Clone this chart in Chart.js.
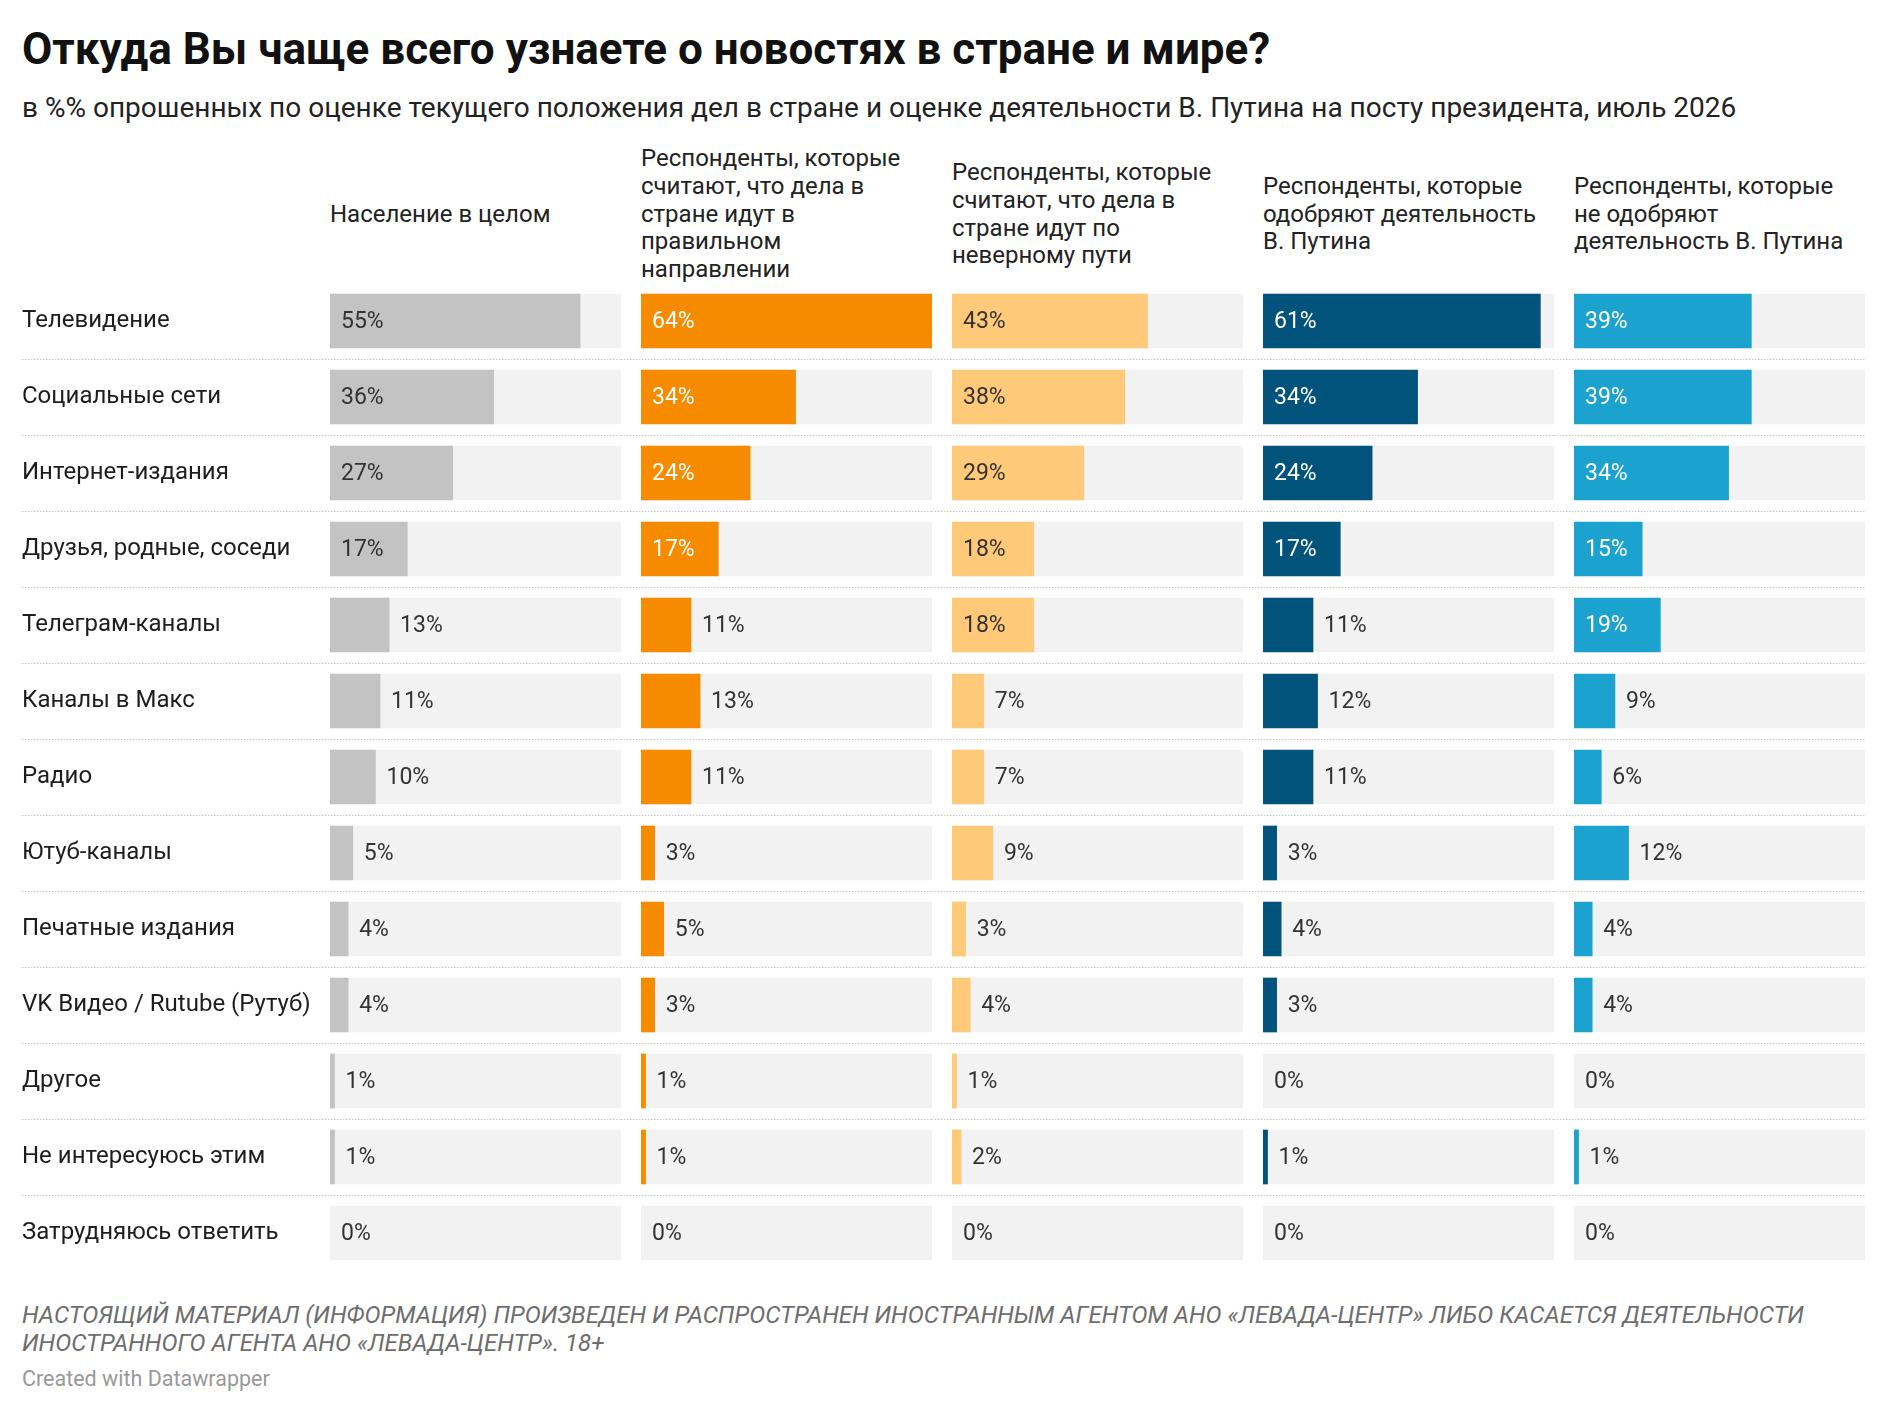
<!DOCTYPE html>
<html lang="ru">
<head>
<meta charset="utf-8">
<title>Откуда Вы чаще всего узнаете о новостях</title>
<script src="https://cdn.jsdelivr.net/npm/chart.js@4"></script>
<style>
  html, body { margin: 0; padding: 0; background: #fff; }
  body { width: 1888px; height: 1412px; position: relative; font-family: Roboto, "Noto Sans", sans-serif; overflow: hidden; }
  .abs { position: absolute; }
  #title { left: 22px; top: 27px; font-size: 44px; line-height: 44px; font-weight: 700; color: #111; white-space: nowrap; }
  #subtitle { left: 22px; top: 94px; font-size: 28px; line-height: 28px; color: #222; white-space: nowrap; }
  .head { top: 145px; height: 139px; width: 291px; display: flex; flex-direction: column; justify-content: center;
          font-size: 24px; line-height: 27.7px; color: #222; }
  canvas.panel { position: absolute; top: 283px; }
  #note { left: 22px; top: 1302px; font-size: 24px; line-height: 27.7px; font-style: italic; color: #6d6d6d; width: 1860px; }
  #credit { left: 22px; top: 1368px; font-size: 21.5px; line-height: 21.5px; color: #999; }
</style>
</head>
<body>
<div id="title" class="abs">Откуда Вы чаще всего узнаете о новостях в стране и мире?</div>
<div id="subtitle" class="abs">в %% опрошенных по оценке текущего положения дел в стране и оценке деятельности В. Путина на посту президента, июль 2026</div>
<div id="heads"></div>
<div id="charts"></div>
<div id="note" class="abs">НАСТОЯЩИЙ МАТЕРИАЛ (ИНФОРМАЦИЯ) ПРОИЗВЕДЕН И РАСПРОСТРАНЕН ИНОСТРАННЫМ АГЕНТОМ АНО «ЛЕВАДА-ЦЕНТР» ЛИБО КАСАЕТСЯ ДЕЯТЕЛЬНОСТИ<br>ИНОСТРАННОГО АГЕНТА АНО «ЛЕВАДА-ЦЕНТР». 18+</div>
<div id="credit" class="abs">Created with Datawrapper</div>

<script>
// категории (строки)
const categories = [
  "Телевидение", "Социальные сети", "Интернет-издания", "Друзья, родные, соседи",
  "Телеграм-каналы", "Каналы в Макс", "Радио", "Ютуб-каналы", "Печатные издания",
  "VK Видео / Rutube (Рутуб)", "Другое", "Не интересуюсь этим", "Затрудняюсь ответить"
];

// значения по группам, %
const naselenie    = [55, 36, 27, 17, 13, 11, 10, 5, 4, 4, 1, 1, 0];
const pravilno     = [64, 34, 24, 17, 11, 13, 11, 3, 5, 3, 1, 1, 0];
const neverno      = [43, 38, 29, 18, 18, 7, 7, 9, 3, 4, 1, 2, 0];
const odobryayut   = [61, 34, 24, 17, 11, 12, 11, 3, 4, 3, 0, 1, 0];
const neOdobryayut = [39, 39, 34, 15, 19, 9, 6, 12, 4, 4, 0, 1, 0];

// заголовки колонок
const headers = [
  "Население в целом",
  "Респонденты, которые считают, что дела в стране идут в правильном направлении",
  "Респонденты, которые считают, что дела в стране идут по неверному пути",
  "Респонденты, которые одобряют деятельность В. Путина",
  "Респонденты, которые не одобряют деятельность В. Путина"
];

const X_MAX = 64;

const panels = [
  { data: naselenie,    color: "#c3c3c3", inside: "#333" },
  { data: pravilno,     color: "#f68b00", inside: "#fff" },
  { data: neverno,      color: "#fec978", inside: "#333" },
  { data: odobryayut,   color: "#02537b", inside: "#fff" },
  { data: neOdobryayut, color: "#1ba2ce", inside: "#fff" }
];

// геометрия
const PANEL_LEFT0 = 330, PANEL_W = 291, GAP = 20, LABEL_LEFT = 22;
const ROW_H = 76, BAR_H = 54;
const FONT = "Roboto, 'Noto Sans', sans-serif";

// подписи значений и пунктирные разделители
const rowsPlugin = {
  id: "rows",
  beforeDatasetsDraw(chart, args, opts) {
    const ctx = chart.ctx, y = chart.scales.y;
    ctx.save();
    ctx.strokeStyle = "#c8c8c8";
    ctx.lineWidth = 1;
    ctx.setLineDash([1.5, 1.5]);
    for (let i = 0; i < categories.length - 1; i++) {
      const yy = Math.round((y.getPixelForValue(i) + y.getPixelForValue(i + 1)) / 2) + 0.5;
      ctx.beginPath();
      ctx.moveTo(opts.lineFrom, yy);
      ctx.lineTo(chart.width, yy);
      ctx.stroke();
    }
    ctx.restore();
  },
  afterDatasetsDraw(chart, args, opts) {
    const ctx = chart.ctx;
    const meta = chart.getDatasetMeta(0);
    const vals = chart.data.datasets[0].data;
    const pad = 11;
    ctx.save();
    ctx.font = "23px " + FONT;
    ctx.textBaseline = "middle";
    ctx.textAlign = "left";
    meta.data.forEach((bar, i) => {
      const txt = vals[i] + "%";
      const w = ctx.measureText(txt).width;
      const len = bar.x - bar.base;
      if (vals[i] > 0 && len >= w + 2 * pad) {
        ctx.fillStyle = opts.inside;
        ctx.fillText(txt, bar.base + pad, bar.y + 1);
      } else {
        ctx.fillStyle = "#333";
        ctx.fillText(txt, (vals[i] > 0 ? bar.x : bar.base) + pad, bar.y + 1);
      }
    });
    ctx.restore();
  }
};

const chartsDiv = document.getElementById("charts");
const headsDiv = document.getElementById("heads");

panels.forEach((p, k) => {
  const panelLeft = PANEL_LEFT0 + k * (PANEL_W + GAP);
  const canvasLeft = k === 0 ? 0 : panelLeft - GAP;
  const canvasW = panelLeft + PANEL_W - canvasLeft;

  const h = document.createElement("div");
  h.className = "abs head";
  h.style.left = panelLeft + "px";
  h.textContent = headers[k];
  headsDiv.appendChild(h);

  const cv = document.createElement("canvas");
  cv.className = "panel";
  cv.width = canvasW;
  cv.height = ROW_H * categories.length;
  cv.style.left = canvasLeft + "px";
  cv.style.width = canvasW + "px";
  cv.style.height = cv.height + "px";
  chartsDiv.appendChild(cv);

  const yScale = {
    display: k === 0,
    offset: true,
    grid: { display: false },
    border: { display: false },
    ticks: { crossAlign: "far", padding: 0, color: "#1d1d1d", font: { family: FONT, size: 24 } }
  };
  if (k === 0) {
    yScale.afterFit = function (scale) {
      scale.width = PANEL_LEFT0 - LABEL_LEFT;
      scale.paddingTop = 0;
      scale.paddingBottom = 0;
    };
  }

  new Chart(cv, {
    type: "bar",
    data: {
      labels: categories,
      datasets: [
        {
          data: p.data,
          // нулевые значения не рисуем совсем
          backgroundColor: (c) => (c.raw === 0 ? "rgba(0,0,0,0)" : p.color),
          barThickness: BAR_H, grouped: false, order: 0
        },
        { data: categories.map(() => X_MAX), backgroundColor: "#f2f2f2", barThickness: BAR_H, grouped: false, order: 1 }
      ]
    },
    options: {
      indexAxis: "y",
      responsive: false,
      animation: false,
      events: [],
      layout: { padding: { left: k === 0 ? LABEL_LEFT : GAP, right: 0, top: 0, bottom: 0 } },
      scales: {
        x: { min: 0, max: X_MAX, display: false },
        y: yScale
      },
      plugins: {
        legend: { display: false },
        tooltip: { enabled: false },
        rows: { inside: p.inside, lineFrom: k === 0 ? LABEL_LEFT : 0 }
      }
    },
    plugins: [rowsPlugin]
  });
});
</script>
</body>
</html>
